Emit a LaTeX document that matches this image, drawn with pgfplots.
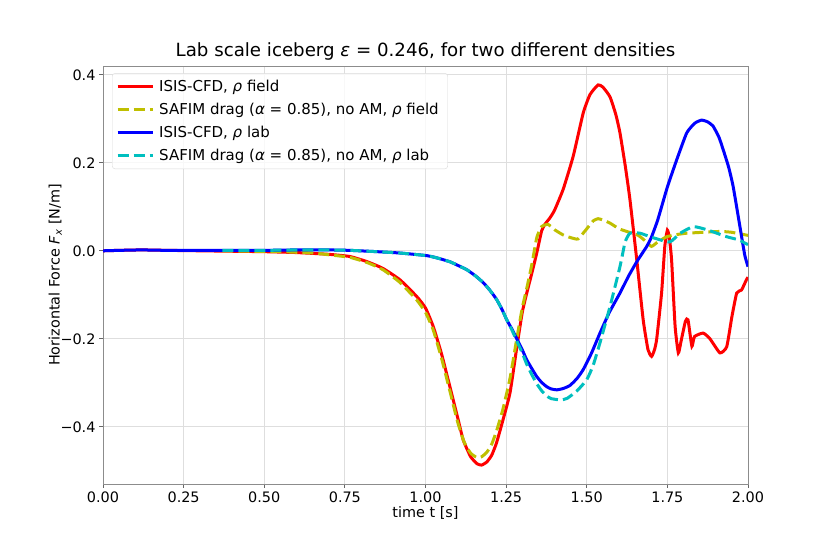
\documentclass[border=0pt]{standalone}
\usepackage{fontspec}
\setmainfont{DejaVu Sans}
\usepackage{pgfplots}
\pgfplotsset{compat=1.18}
\definecolor{cy}{rgb}{0.75,0.75,0}
\definecolor{cc}{rgb}{0,0.75,0.75}
\begin{document}
\begin{tikzpicture}
\useasboundingbox (0pt,0pt) rectangle (830pt,554pt);
\begin{axis}[
  at={(103pt,70pt)}, anchor=south west,
  scale only axis, width=645pt, height=418pt,
  xmin=0, xmax=2, ymin=-0.53, ymax=0.42,
  xtick={0,0.25,0.5,0.75,1,1.25,1.5,1.75,2},
  xticklabels={0.00,0.25,0.50,0.75,1.00,1.25,1.50,1.75,2.00},
  ytick={-0.4,-0.2,0,0.2,0.4},
  yticklabels={−0.4,−0.2,0.0,0.2,0.4},
  tick label style={font=\fontsize{14.4}{17}\selectfont},
  grid=major,
  major grid style={draw=black!13, line width=0.8pt},
  axis line style={draw=black!45, line width=0.8pt},
  tick style={draw=black!60, line width=0.8pt},
  tick align=outside, major tick length=4pt,
  xtick pos=bottom, ytick pos=left,
  title={Lab scale iceberg {\itshape ε} = 0.246, for two different densities},
  title style={font=\fontsize{18.2}{21}\selectfont, at={(axis description cs:0.5,1)}, anchor=base, yshift=4pt},
  xlabel={time t [s]},
  ylabel={Horizontal Force {\itshape F}\textsubscript{\itshape x} [N/m]},
  every axis x label/.style={at={(axis description cs:0.5,0)}, anchor=center, yshift=-28.5pt, font=\fontsize{14.4}{17}\selectfont, inner sep=1pt},
  every axis y label/.style={at={(axis description cs:-0.074,0.5)}, anchor=center, rotate=90, font=\fontsize{14.4}{17}\selectfont},
  legend style={at={(axis description cs:0.014,0.983)}, anchor=north west,
    draw=black!15, rounded corners=3pt, fill=white, fill opacity=0.8, text opacity=1,
    font=\fontsize{15}{17}\selectfont, row sep=6pt, inner xsep=4pt, inner ysep=5pt,
    cells={anchor=west}, nodes={inner xsep=5pt}},
  legend image code/.code={\draw[#1] (0pt,0pt) -- (35pt,0pt);},
]
\addplot[red, line width=3pt, smooth, tension=0.3] coordinates {
(0,0) (0.05,0.001) (0.12,0.002) (0.2,0.001) (0.3,0) (0.4,-0.001) (0.5,-0.002) (0.6,-0.004) (0.7,-0.008) (0.766,-0.013) (0.82,-0.025) (0.868,-0.04) (0.921,-0.066) (0.973,-0.104) (1.0,-0.13) (1.024,-0.172) (1.05,-0.235) (1.076,-0.31) (1.1,-0.38) (1.117,-0.43) (1.14,-0.468) (1.16,-0.484) (1.174,-0.487) (1.19,-0.48) (1.205,-0.465) (1.22,-0.437) (1.24,-0.385) (1.262,-0.323) (1.283,-0.22) (1.3,-0.14) (1.314,-0.096) (1.33,-0.05) (1.345,-0.005) (1.36,0.045) (1.37,0.06) (1.386,0.075) (1.4,0.092) (1.427,0.14) (1.458,0.215) (1.489,0.313) (1.51,0.355) (1.535,0.377) (1.55,0.372) (1.572,0.35) (1.59,0.31) (1.603,0.268) (1.62,0.19) (1.634,0.116) (1.655,-0.02) (1.675,-0.157) (1.69,-0.225) (1.701,-0.24) (1.71,-0.225) (1.717,-0.2) (1.732,-0.096) (1.742,0.01) (1.75,0.047) (1.756,0.03) (1.763,-0.02) (1.774,-0.172) (1.784,-0.232) (1.792,-0.207) (1.806,-0.16) (1.814,-0.157) (1.826,-0.217) (1.834,-0.195) (1.861,-0.187) (1.882,-0.2) (1.913,-0.232) (1.934,-0.218) (1.95,-0.15) (1.965,-0.096) (1.98,-0.089) (1.995,-0.066) (2.0,-0.06)
};
\addlegendentry{ISIS-CFD, {\itshape ρ} field}
\addplot[cy, line width=3pt, dash pattern=on 11pt off 5pt, smooth, tension=0.3] coordinates {
(0.37,0) (0.45,-0.001) (0.55,-0.002) (0.65,-0.005) (0.7,-0.009) (0.766,-0.015) (0.82,-0.027) (0.868,-0.043) (0.921,-0.072) (0.973,-0.112) (1.0,-0.14) (1.024,-0.18) (1.05,-0.245) (1.076,-0.32) (1.1,-0.39) (1.12,-0.435) (1.14,-0.46) (1.16,-0.47) (1.174,-0.468) (1.19,-0.458) (1.205,-0.44) (1.22,-0.41) (1.24,-0.36) (1.262,-0.29) (1.283,-0.2) (1.3,-0.13) (1.314,-0.085) (1.33,-0.03) (1.345,0.03) (1.36,0.055) (1.38,0.06) (1.40,0.048) (1.427,0.036) (1.45,0.03) (1.473,0.027) (1.5,0.05) (1.52,0.068) (1.535,0.073) (1.55,0.07) (1.572,0.063) (1.6,0.05) (1.624,0.044) (1.66,0.035) (1.685,0.02) (1.701,0.01) (1.72,0.02) (1.748,0.032) (1.78,0.037) (1.81,0.04) (1.86,0.042) (1.913,0.044) (1.95,0.042) (2.0,0.035)
};
\addlegendentry{SAFIM drag ({\itshape α} = 0.85), no AM, {\itshape ρ} field}
\addplot[blue, line width=3pt, smooth, tension=0.3] coordinates {
(0,0) (0.05,0.001) (0.12,0.002) (0.2,0.001) (0.3,0.001) (0.4,0.001) (0.5,0.001) (0.6,0.002) (0.7,0.002) (0.766,0.001) (0.85,-0.002) (0.92,-0.005) (1.004,-0.011) (1.04,-0.017) (1.076,-0.025) (1.1,-0.033) (1.128,-0.043) (1.155,-0.057) (1.18,-0.073) (1.2,-0.09) (1.22,-0.11) (1.237,-0.133) (1.252,-0.157) (1.268,-0.178) (1.283,-0.2) (1.3,-0.225) (1.314,-0.248) (1.33,-0.268) (1.345,-0.286) (1.36,-0.299) (1.376,-0.309) (1.39,-0.314) (1.407,-0.316) (1.427,-0.313) (1.448,-0.306) (1.47,-0.29) (1.489,-0.27) (1.515,-0.232) (1.541,-0.187) (1.57,-0.14) (1.603,-0.096) (1.63,-0.057) (1.655,-0.025) (1.67,-0.008) (1.686,0.01) (1.70,0.03) (1.72,0.07) (1.75,0.145) (1.779,0.207) (1.81,0.268) (1.835,0.29) (1.856,0.297) (1.875,0.293) (1.892,0.283) (1.91,0.258) (1.923,0.23) (1.94,0.19) (1.954,0.146) (1.975,0.055) (1.99,-0.01) (2.0,-0.036)
};
\addlegendentry{ISIS-CFD, {\itshape ρ} lab}
\addplot[cc, line width=3pt, dash pattern=on 11pt off 5pt, smooth, tension=0.3] coordinates {
(0.37,0.001) (0.5,0.001) (0.6,0.002) (0.7,0.002) (0.766,0.001) (0.85,-0.002) (0.92,-0.005) (1.004,-0.011) (1.04,-0.017) (1.076,-0.025) (1.1,-0.033) (1.128,-0.043) (1.155,-0.057) (1.18,-0.073) (1.2,-0.09) (1.22,-0.11) (1.237,-0.133) (1.252,-0.157) (1.268,-0.18) (1.283,-0.205) (1.3,-0.232) (1.314,-0.258) (1.33,-0.282) (1.345,-0.302) (1.36,-0.318) (1.376,-0.33) (1.39,-0.336) (1.42,-0.339) (1.44,-0.335) (1.47,-0.318) (1.5,-0.293) (1.52,-0.26) (1.541,-0.209) (1.572,-0.127) (1.603,-0.036) (1.619,0.02) (1.634,0.04) (1.665,0.04) (1.705,0.03) (1.757,0.02) (1.79,0.04) (1.83,0.055) (1.872,0.048) (1.934,0.032) (1.97,0.025) (2.0,0.014)
};
\addlegendentry{SAFIM drag ({\itshape α} = 0.85), no AM, {\itshape ρ} lab}
\end{axis}
\end{tikzpicture}
\end{document}
